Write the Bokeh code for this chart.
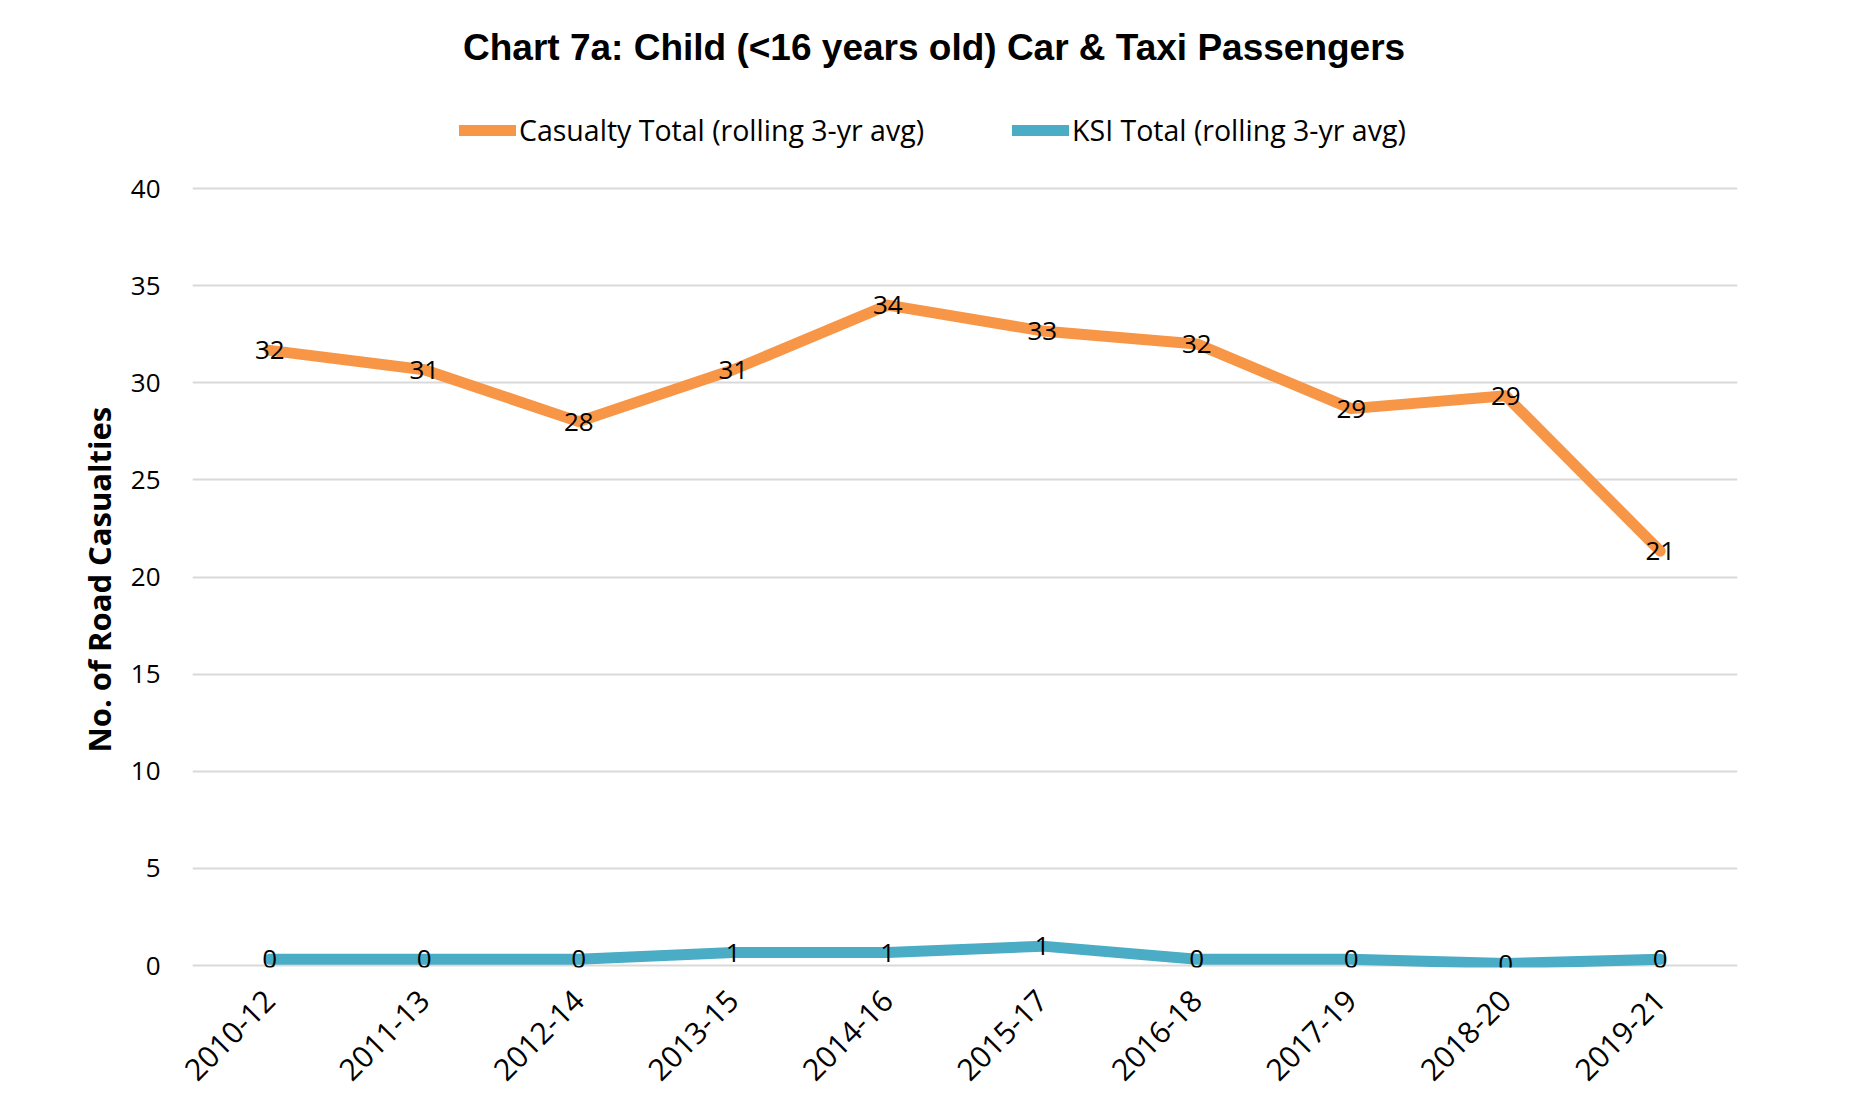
import math
from bokeh.plotting import figure
from bokeh.models import (ColumnDataSource, FactorRange, Range1d, Legend, LegendItem,
                          Label, FixedTicker, LabelSet, Title)
from bokeh.core.properties import value
from bokeh.embed import file_html
from bokeh.resources import INLINE

categories = ["2010-12", "2011-13", "2012-14", "2013-15", "2014-16",
              "2015-17", "2016-18", "2017-19", "2018-20", "2019-21"]
casualty_total = [31.67, 30.67, 28.0, 30.67, 34.0, 32.67, 32.0, 28.67, 29.33, 21.33]
ksi_total = [0.33, 0.33, 0.33, 0.67, 0.67, 1.0, 0.33, 0.33, 0.1, 0.33]
y_ticks = [0, 5, 10, 15, 20, 25, 30, 35, 40]

title_text = "Chart 7a: Child (<16 years old) Car & Taxi Passengers"
y_label = "No. of Road Casualties"
cas_name = "Casualty Total (rolling 3-yr avg)"
ksi_name = "KSI Total (rolling 3-yr avg)"

ORANGE = "#F79646"
TEAL = "#4BACC6"
FONT = "Open Sans"

W, H = 1850, 1100
B_LEFT, B_RIGHT, B_BOTTOM = 192, 113, 133
frame_h = H - B_BOTTOM

src = ColumnDataSource(dict(
    cat=categories,
    cas=casualty_total,
    ksi=ksi_total,
    cas_lbl=[str(int(round(v))) for v in casualty_total],
    ksi_lbl=[str(int(round(v))) for v in ksi_total],
))

p = figure(width=W, height=H, x_range=FactorRange(*categories, range_padding=0),
           y_range=Range1d(-0.1, 49.68), output_backend="svg", toolbar_location=None,
           title_location=None,
           min_border_left=B_LEFT, min_border_right=B_RIGHT, min_border_top=0,
           min_border_bottom=B_BOTTOM)
p.outline_line_color = None
p.background_fill_color = "white"
p.border_fill_color = "white"

r1 = p.line("cat", "cas", source=src, line_color=ORANGE, line_width=11,
            line_cap="round", line_join="round")
r2 = p.line("cat", "ksi", source=src, line_color=TEAL, line_width=11,
            line_cap="round", line_join="round")

for col, lab in (("cas", "cas_lbl"), ("ksi", "ksi_lbl")):
    ls = LabelSet(x="cat", y=col, text=lab, source=src, text_align="center",
                  text_baseline="middle", text_font=value(FONT),
                  text_font_size="26px", text_color="black")
    p.add_layout(ls)

# axes
p.xgrid.grid_line_color = None
p.ygrid.grid_line_color = "#d9d9d9"
p.ygrid.grid_line_width = 2
p.yaxis.ticker = FixedTicker(ticks=y_ticks)
for ax in (p.xaxis[0], p.yaxis[0]):
    ax.axis_line_color = None
    ax.major_tick_line_color = None
    ax.minor_tick_line_color = None
    ax.major_label_text_font = FONT
    ax.major_label_text_color = "black"
p.yaxis.major_label_text_font_size = "26px"
p.yaxis.major_label_standoff = 26
p.xaxis.major_label_text_font_size = "30px"
p.xaxis.major_label_orientation = math.pi / 4
p.xaxis.major_label_standoff = 22

ytitle = Title(text=y_label, align="left", offset=215, standoff=16,
               text_font=FONT, text_font_style="bold", text_font_size="31px",
               text_color="black")
p.add_layout(ytitle, "left")

legend = Legend(items=[LegendItem(label=cas_name, renderers=[r1]),
                       LegendItem(label=ksi_name, renderers=[r2])],
                orientation="horizontal", location=(267, frame_h - 149),
                glyph_width=57, glyph_height=14, label_standoff=3, spacing=88,
                padding=0, margin=0, border_line_alpha=0, background_fill_alpha=0,
                label_text_font=FONT, label_text_font_size="28.5px",
                label_text_color="black")
p.add_layout(legend, "center")

title = Label(x=4.80, y=47.26, text=title_text, text_align="center",
              text_baseline="middle", text_font="Liberation Sans",
              text_font_style="bold", text_font_size="37px", text_color="black")
p.add_layout(title)

open("out.html", "w").write(file_html(p, INLINE))
